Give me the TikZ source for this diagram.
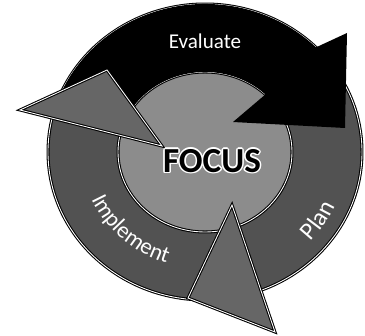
\documentclass[tikz,border=0pt]{standalone}
\usepackage{fontspec}
\setmainfont{Carlito}
\usetikzlibrary{calc,decorations.text}

\newcommand\arcfont{\fontsize{13}{15}\selectfont}
\newcommand\planfont{\fontsize{14}{16}\selectfont}

\begin{document}
\begin{tikzpicture}[x=0.02cm,y=0.02cm,
    edge/.style={draw=black,double=white,double distance=0.5pt,line width=0.6pt},
    ringfill/.style={fill=black!68},
    headfill/.style={fill=black!60},
    discfill/.style={fill=black!45},
    lbl/.style={text=white,font=\fontsize{12}{14}\selectfont},
    focus/.style={font=\fontsize{20}{22}\selectfont\bfseries}]
    \useasboundingbox (0,0) rectangle (365,335);
    \coordinate (O) at (205,183);
    \path[ringfill,edge] (O) ellipse[x radius=157,y radius=148];
    \path[discfill,edge] (O) ellipse[x radius=87,y radius=80];

    \coordinate (eA) at (233,213);
    \coordinate (eB) at (347,302);
    \coordinate (eC) at (345,207);
    \fill[black] ($(O)+(165:157 and 148)$) arc[start angle=165,end angle=45,x radius=157,y radius=148]
        -- (eB) -- (eC) -- (eA) -- ($(O)+(46:87 and 80)$)
        arc[start angle=46,end angle=165,x radius=87,y radius=80] -- cycle;

    \coordinate (iT) at (20,225);
    \coordinate (iP) at (107,265);
    \coordinate (iQ) at (162,189);
    \path[headfill,edge] (iT) -- (iP) -- (iQ) -- cycle;

    \coordinate (pA) at (232,130);
    \coordinate (pB) at (188,37);
    \coordinate (pC) at (275,3);
    \path[headfill,edge] (pA) -- (pB) -- (pC) -- cycle;

    \node[lbl] (eval) at (205,294) {Evaluate};
    \foreach \a in {0,45,...,315}
        \node[focus,text=white] (halo\a) at ($(212,174)+(\a:1.6)$) {FOCUS};
    \node[focus] (focus) at (212,174) {FOCUS};

    \path[decorate,decoration={text along path,text align=center,
        text={|\arcfont\color{white}|Implement}}]
        ($(O)+(190:124 and 117)$) arc[start angle=190,end angle=265,x radius=124,y radius=117];
    \path[decorate,decoration={text along path,text align=center,
        text={|\planfont\color{white}|Plan}}]
        ($(O)+(-60:142 and 134)$) arc[start angle=-60,end angle=-5,x radius=142,y radius=134];
\end{tikzpicture}
\end{document}
